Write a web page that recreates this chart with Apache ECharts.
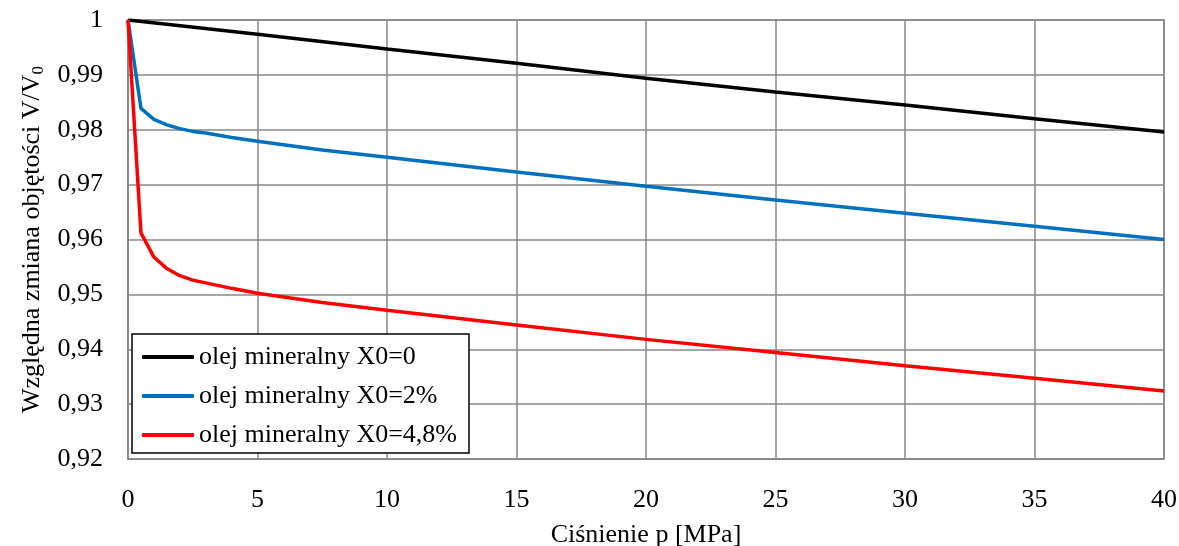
<!DOCTYPE html>
<html><head><meta charset="utf-8">
<script src="https://cdn.jsdelivr.net/npm/echarts@6/dist/echarts.min.js"></script>
<style>html,body{margin:0;padding:0;background:#fff}#c{width:1179px;height:546px}</style>
</head><body><div id="c"></div>
<script>
const seriesNames = ['olej mineralny X0=0', 'olej mineralny X0=2%', 'olej mineralny X0=4,8%'];
const blackX = [0, 5, 10, 15, 20, 25, 30, 35, 40];
const blackY = [1, 0.9974, 0.9947, 0.9921, 0.9894, 0.9869, 0.9845, 0.9820, 0.9796];
const blueX = [0, 0.5, 1, 1.5, 2, 2.5, 3, 4, 5, 7.5, 10, 15, 20, 25, 30, 35, 40];
const blueY = [1, 0.9839, 0.9819, 0.9809, 0.9802, 0.9797, 0.9794, 0.9786, 0.9779, 0.9763, 0.9750, 0.9723, 0.9697, 0.9672, 0.9648, 0.9624, 0.9600];
const redX = [0, 0.5, 1, 1.5, 2, 2.5, 3, 4, 5, 7.5, 10, 15, 20, 25, 30, 35, 40];
const redY = [1, 0.9612, 0.9568, 0.9547, 0.9534, 0.9526, 0.9521, 0.9511, 0.9502, 0.9485, 0.9471, 0.9444, 0.9418, 0.9394, 0.9370, 0.9347, 0.9324];
const xTicks = {min: 0, max: 40, interval: 5};
const yTicks = {min: 0.92, max: 1, interval: 0.01};

const zip = (xs, ys) => xs.map((x, i) => [x, ys[i]]);
const font = 'Liberation Serif';
const chart = echarts.init(document.getElementById('c'));
const mk = (name, xs, ys, color) => ({
  name, type: 'line', data: zip(xs, ys), symbol: 'none', smooth: false,
  lineStyle: {color, width: 3.5}, itemStyle: {color}
});
chart.setOption({
  animation: false,
  textStyle: {fontFamily: font},
  grid: {left: 128, right: 15, top: 20, bottom: 87, show: true, borderColor: '#888', borderWidth: 1.5,
    containLabel: false, outerBoundsMode: 'none'},
  xAxis: {
    type: 'value', min: xTicks.min, max: xTicks.max, interval: xTicks.interval,
    name: 'Ciśnienie p [MPa]', nameLocation: 'middle', nameGap: 63,
    nameTextStyle: {fontFamily: font, fontSize: 26, color: '#000'},
    axisLine: {show: true, lineStyle: {color: '#888', width: 1.5}},
    axisTick: {show: false},
    axisLabel: {fontFamily: font, fontSize: 26, color: '#000', margin: 28},
    splitLine: {show: true, lineStyle: {color: '#888', width: 1.5}}
  },
  yAxis: {
    type: 'value', min: yTicks.min, max: yTicks.max, interval: yTicks.interval,
    name: '{a|Względna zmiana objętości V/V}{s|0}', nameLocation: 'middle', nameGap: 80,
    nameRotate: 90,
    nameTextStyle: {rich: {
      a: {fontFamily: font, fontSize: 26, color: '#000'},
      s: {fontFamily: font, fontSize: 17, color: '#000', verticalAlign: 'bottom', padding: [12, 0, 0, 0]}
    }},
    axisLine: {show: true, lineStyle: {color: '#888', width: 1.5}},
    axisTick: {show: false},
    axisLabel: {fontFamily: font, fontSize: 26, color: '#000', margin: 25,
      formatter: v => String(Math.round(v * 100) / 100).replace('.', ',')},
    splitLine: {show: true, lineStyle: {color: '#888', width: 1.5}}
  },
  legend: {
    data: seriesNames, orient: 'vertical', left: 132, top: 334,
    backgroundColor: '#fff', borderColor: '#000', borderWidth: 1.5, borderRadius: 0,
    padding: [10, 12, 5, 10], itemGap: 13, itemWidth: 52, itemHeight: 4, icon: 'roundRect',
    textStyle: {fontFamily: font, fontSize: 26, color: '#000'}
  },
  series: [
    mk(seriesNames[0], blackX, blackY, '#000000'),
    mk(seriesNames[1], blueX, blueY, '#0070C0'),
    mk(seriesNames[2], redX, redY, '#FF0000')
  ]
});
</script></body></html>
